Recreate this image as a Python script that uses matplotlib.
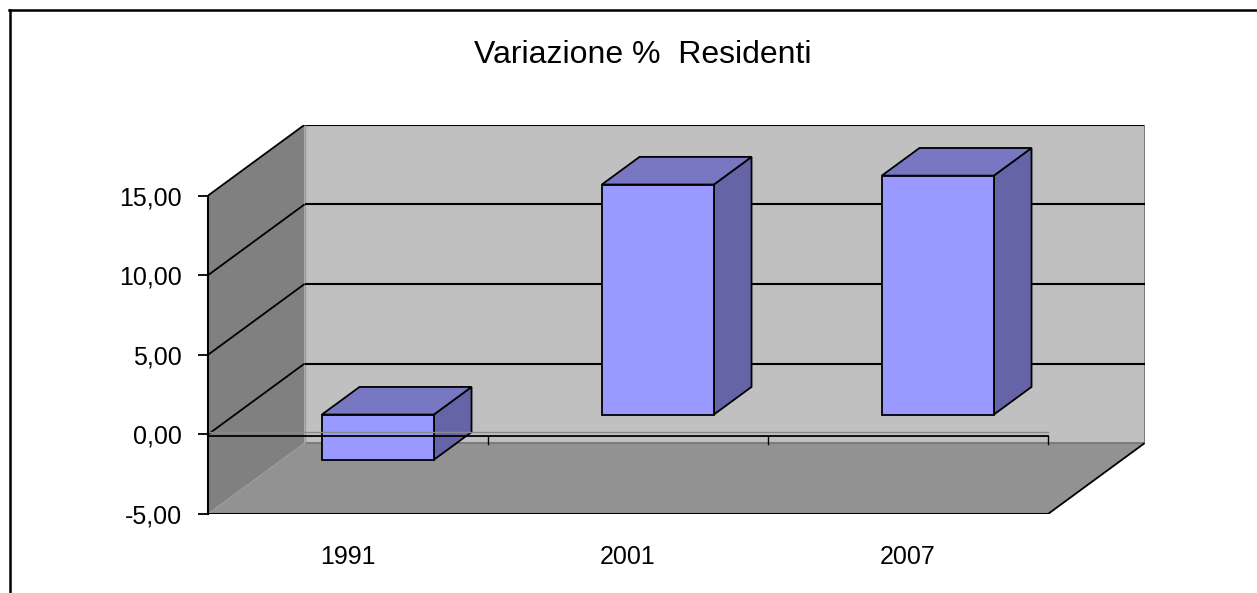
import matplotlib
matplotlib.use("Agg")
import matplotlib.pyplot as plt
from matplotlib.patches import Polygon
from matplotlib.lines import Line2D

plt.rcParams['font.family'] = ['Liberation Sans', 'DejaVu Sans']

# data
years = ['1991', '2001', '2007']
variazione = [-2.84, 14.45, 15.01]
y_ticks = [-5, 0, 5, 10, 15]
title = 'Variazione %  Residenti'

# fake 3d: depth offset of the back plane in data units
DX = 0.345
DY = 4.45
BW = 0.40
D0, D1 = 0.28, 0.67
YMIN, YMAX = -5, 15


def proj(x, v, d):
    return (x + d * DX, v + d * DY)


fig = plt.figure(figsize=(12.57, 5.93), dpi=100)
W, H = 1257, 593
px_per_val = 15.92
px_per_cat = 280
ax_h = (YMAX - YMIN + DY) * px_per_val
ax = fig.add_axes([208 / W, (H - 514) / H, (3 + DX) * px_per_cat / W, ax_h / H])
ax.set_xlim(0, 3 + DX)
ax.set_ylim(YMIN, YMAX + DY)
n = len(years)

# walls and floor
left_wall = [proj(0, YMIN, 0), proj(0, YMAX, 0), proj(0, YMAX, 1), proj(0, YMIN, 1)]
back_wall = [proj(0, YMIN, 1), proj(0, YMAX, 1), proj(n, YMAX, 1), proj(n, YMIN, 1)]
floor = [proj(0, YMIN, 0), proj(n, YMIN, 0), proj(n, YMIN, 1), proj(0, YMIN, 1)]
ax.add_patch(Polygon(left_wall, closed=True, fc='#808080', ec='none', zorder=1))
ax.add_patch(Polygon(back_wall, closed=True, fc='#c0c0c0', ec='none', zorder=1))
ax.add_patch(Polygon(floor, closed=True, fc='#929292', ec='none', zorder=1))

# wall edges
def seg(p, q, **kw):
    ax.plot([p[0], q[0]], [p[1], q[1]], solid_capstyle='butt', **kw)

seg(proj(0, YMAX, 0), proj(0, YMAX, 1), color='black', lw=1.3, zorder=2)
seg(proj(0, YMAX, 1), proj(n, YMAX, 1), color='black', lw=1.5, zorder=2)
seg(proj(n, YMAX, 1), proj(n, YMIN, 1), color='#7a7a7a', lw=1.4, zorder=2)
seg(proj(0, YMIN, 1), proj(n, YMIN, 1), color='#7a7a7a', lw=1.4, zorder=2)
seg(proj(0, YMIN, 0), proj(0, YMIN, 1), color='#9a9a9a', lw=1.0, zorder=2)
seg(proj(0, YMIN, 0), proj(n, YMIN, 0), color='black', lw=1.5, zorder=2)
seg(proj(n, YMIN, 0), proj(n, YMIN, 1), color='black', lw=1.3, zorder=2)
seg(proj(0, YMAX, 1), proj(0, YMIN, 1), color='#9a9a9a', lw=1.0, zorder=2)

# gridlines on side and back wall
for v in y_ticks:
    if v in (YMIN, YMAX):
        continue
    seg(proj(0, v, 0), proj(0, v, 1), color='black', lw=1.3, zorder=2)
    seg(proj(0, v, 1), proj(n, v, 1), color='black', lw=1.5, zorder=2)

# bars
for i, v in enumerate(variazione):
    x0 = i + 0.51 - BW / 2
    x1 = x0 + BW
    lo, hi = min(0, v), max(0, v)
    side = [proj(x1, lo, D0), proj(x1, lo, D1), proj(x1, hi, D1), proj(x1, hi, D0)]
    top = [proj(x0, hi, D0), proj(x1, hi, D0), proj(x1, hi, D1), proj(x0, hi, D1)]
    front = [proj(x0, lo, D0), proj(x1, lo, D0), proj(x1, hi, D0), proj(x0, hi, D0)]
    ax.add_patch(Polygon(side, closed=True, fc='#6464a6', ec='black', lw=1.3, zorder=3))
    ax.add_patch(Polygon(top, closed=True, fc='#7878c2', ec='black', lw=1.3, zorder=3))
    ax.add_patch(Polygon(front, closed=True, fc='#9999ff', ec='black', lw=1.3, zorder=3))

# category axis at zero, front plane
ax.plot([0, n], [0.12, 0.12], color='#8a8a8a', lw=1.0, zorder=4)
ax.plot([0, n], [-0.1, -0.1], color='black', lw=1.3, zorder=4)
for k in range(1, n + 1):
    ax.plot([k, k], [-0.1, -0.6], color='black', lw=1.0, zorder=4)

# axes styling
for s in ['top', 'right', 'bottom']:
    ax.spines[s].set_visible(False)
ax.spines['left'].set_bounds(YMIN, YMAX)
ax.spines['left'].set_linewidth(1.5)
ax.spines['left'].set_zorder(5)
ax.set_yticks(y_ticks)
ax.set_yticklabels([('%.2f' % v).replace('.', ',') for v in y_ticks])
ax.tick_params(axis='y', length=7, width=1.3, pad=12, labelsize=18)
ax.set_xticks([i + 0.5 for i in range(n)])
ax.set_xticklabels(years)
ax.tick_params(axis='x', length=0, pad=22, labelsize=18)

fig.text(643 / W, 1 - 55 / H, title, ha='center', va='center', fontsize=23)

# outer frame
fig.add_artist(Line2D([9 / W, 1], [1 - 10 / H, 1 - 10 / H], color='black', lw=1.8))
fig.add_artist(Line2D([10 / W, 10 / W], [0, 1 - 10 / H], color='black', lw=1.8))

fig.savefig('out.png', dpi=100)
